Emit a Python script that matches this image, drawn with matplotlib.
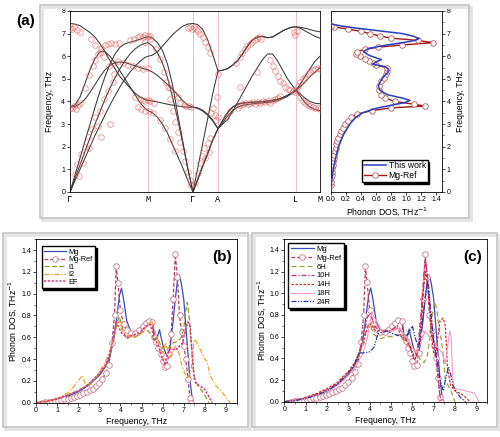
import matplotlib
matplotlib.use('Agg')
import matplotlib.pyplot as plt
from matplotlib.patches import Rectangle
from matplotlib.ticker import MultipleLocator

plt.rcParams['font.family'] = ['Liberation Sans', 'DejaVu Sans']

# ---- panel (a): dispersion along the path ----
kpath = [0, .02, .04, .06, .08, .10, .12, .14, .16, .18, .20, .22, .24, .26, .28, .30, .312,
         .33, .35, .37, .39, .41, .43, .45, .47, .492,
         .51, .53, .55, .57, .592,
         .61, .63, .65, .67, .69, .71, .73, .75, .77, .79, .81, .83, .85, .87, .89, .904,
         .92, .94, .96, .98, 1.0]
kticks = [0, 0.312, 0.492, 0.592, 0.904, 1.0]
klabels = ['Γ', 'M', 'Γ', 'A', 'L', 'M']

band1 = [7.45, 7.42, 7.35, 7.2, 7.05, 6.85, 6.55, 6.2, 5.8, 5.45, 5.1, 4.85, 4.6, 4.37, 4.2, 4.08, 4.05,
         4.02, 3.98, 3.93, 3.88, 3.84, 3.8, 3.77, 3.75, 3.75,
         3.72, 3.62, 3.45, 3.2, 2.8,
         3.15, 3.5, 3.75, 3.88, 3.93, 3.95, 3.97, 3.98, 4.0, 4.02, 4.05, 4.1, 4.17, 4.27, 4.4, 4.5,
         4.35, 4.15, 4.0, 3.92, 3.9]
band2 = [3.75, 3.85, 4.2, 4.8, 5.4, 5.9, 6.2, 6.2, 6.0, 5.7, 5.35, 5.0, 4.65, 4.3, 3.95, 3.7, 3.6,
         3.5, 3.3, 3.0, 2.6, 2.1, 1.6, 1.1, 0.55, 0,
         0.55, 1.15, 1.7, 2.3, 2.8,
         3.0, 3.2, 3.55, 3.95, 4.35, 4.75, 5.15, 5.5, 5.85, 6.1, 6.1, 5.8, 5.4, 5.0, 4.7, 4.5,
         4.25, 3.95, 3.75, 3.65, 3.6]
band3 = [3.75, 3.78, 3.9, 4.1, 4.4, 4.75, 5.1, 5.4, 5.6, 5.72, 5.75, 5.72, 5.65, 5.58, 5.5, 5.43, 5.4,
         5.3, 5.15, 4.95, 4.75, 4.55, 4.3, 4.05, 3.85, 3.75,
         3.7, 3.58, 3.4, 3.15, 2.8,
         3.05, 3.35, 3.6, 3.75, 3.83, 3.87, 3.9, 3.92, 3.94, 3.96, 3.99, 4.04, 4.12, 4.23, 4.37, 4.5,
         4.65, 4.85, 5.1, 5.3, 5.5]
band4 = [0, 0.75, 1.5, 2.25, 3.0, 3.75, 4.45, 5.1, 5.65, 6.1, 6.4, 6.55, 6.62, 6.68, 6.75, 6.83, 6.87,
         6.8, 6.6, 6.25, 5.65, 4.75, 3.5, 2.3, 1.1, 0,
         1.0, 2.1, 3.2, 4.3, 5.35,
         5.38, 5.45, 5.6, 5.8, 6.1, 6.45, 6.72, 6.85, 6.88, 6.82, 6.85, 6.98, 7.12, 7.22, 7.29, 7.3,
         7.28, 7.24, 7.18, 7.12, 7.08]
band5 = [0, 0.6, 1.2, 1.8, 2.4, 3.0, 3.55, 4.1, 4.6, 5.05, 5.45, 5.8, 6.1, 6.32, 6.48, 6.57, 6.6,
         6.45, 6.15, 5.7, 5.05, 4.2, 3.25, 2.2, 1.1, 0,
         0.5, 1.1, 1.65, 2.25, 2.8,
         3.15, 3.5, 3.75, 3.88, 3.93, 3.95, 3.97, 3.98, 4.0, 4.02, 4.05, 4.1, 4.17, 4.27, 4.4, 4.5,
         4.75, 5.1, 5.45, 5.78, 6.0]
band6 = [0, 0.5, 1.0, 1.5, 2.0, 2.5, 2.95, 3.4, 3.85, 4.25, 4.65, 5.0, 5.3, 5.55, 5.78, 5.95, 6.0,
         6.05, 6.2, 6.45, 6.7, 6.95, 7.15, 7.32, 7.42, 7.45,
         7.4, 7.2, 6.75, 6.1, 5.35,
         5.38, 5.45, 5.6, 5.8, 6.1, 6.45, 6.72, 6.85, 6.88, 6.82, 6.85, 6.98, 7.12, 7.22, 7.29, 7.3,
         7.25, 7.12, 7.0, 6.88, 6.8]

# reference points (open circles), grouped by path segment
ref_gm = [(0.0, 7.25), (0.008, 7.22), (0.016, 7.28), (0.028, 7.18), (0.04, 7.05),
          (0.0, 3.72), (0.008, 3.7), (0.016, 3.78), (0.024, 3.68), (0.032, 3.85), (0.04, 3.95),
          (0.02, 0.8), (0.028, 1.25), (0.034, 0.7), (0.044, 1.7), (0.05, 1.3), (0.06, 2.0),
          (0.07, 2.45), (0.076, 1.95), (0.088, 2.8), (0.1, 3.3), (0.11, 2.9), (0.12, 3.6),
          (0.122, 2.45), (0.135, 4.1), (0.15, 4.45), (0.16, 3.0), (0.17, 4.85),
          (0.06, 4.6), (0.075, 5.15), (0.09, 5.55), (0.1, 5.85), (0.112, 6.1), (0.125, 6.35),
          (0.138, 6.5), (0.15, 6.55), (0.165, 6.58), (0.18, 6.55), (0.195, 6.6),
          (0.085, 6.75), (0.1, 6.5), (0.118, 6.2), (0.135, 5.95), (0.155, 5.55), (0.175, 5.2),
          (0.17, 5.7), (0.19, 5.8), (0.21, 5.72), (0.23, 5.62), (0.25, 5.55), (0.27, 5.5),
          (0.29, 5.45), (0.31, 5.5),
          (0.24, 6.7), (0.255, 6.78), (0.27, 6.85), (0.28, 6.9), (0.29, 6.85), (0.3, 6.92),
          (0.31, 6.88), (0.32, 6.9), (0.318, 6.75), (0.3, 6.65),
          (0.26, 4.2), (0.28, 4.1), (0.29, 4.05), (0.3, 4.0), (0.31, 4.08),
          (0.27, 3.75), (0.285, 3.65), (0.3, 3.6), (0.315, 3.58)]
ref_mg = [(0.32, 4.02), (0.335, 3.95), (0.33, 3.5),
          (0.345, 6.3), (0.36, 5.9), (0.375, 5.3), (0.39, 4.65), (0.4, 4.1), (0.41, 3.6),
          (0.42, 3.1), (0.43, 2.65), (0.44, 2.2), (0.45, 1.8), (0.46, 1.35), (0.47, 0.9),
          (0.478, 0.55), (0.485, 0.3),
          (0.36, 3.2), (0.38, 2.85), (0.4, 2.35), (0.42, 1.8),
          (0.385, 4.85), (0.4, 4.6), (0.415, 4.35), (0.43, 4.2), (0.44, 3.95), (0.455, 3.85),
          (0.465, 3.82), (0.475, 3.78), (0.485, 3.75),
          (0.47, 7.25), (0.478, 7.3), (0.486, 7.22)]
ref_ga = [(0.495, 7.28), (0.502, 7.2), (0.51, 7.1), (0.52, 7.0), (0.53, 6.85), (0.54, 6.65),
          (0.55, 6.4), (0.56, 6.15),
          (0.5, 0.4), (0.51, 0.85), (0.52, 1.3), (0.528, 1.6), (0.535, 1.95), (0.54, 1.5),
          (0.55, 2.15), (0.556, 1.75), (0.56, 2.4), (0.565, 3.5), (0.572, 3.7), (0.578, 3.4),
          (0.585, 3.2), (0.59, 3.3), (0.588, 4.2), (0.59, 5.2)]
ref_al = [(0.625, 3.3), (0.64, 3.6), (0.68, 4.65),
          (0.665, 5.7), (0.678, 5.95), (0.688, 6.15), (0.698, 6.3), (0.708, 6.45), (0.718, 6.55),
          (0.728, 6.65), (0.738, 6.72), (0.748, 6.8), (0.756, 6.85), (0.764, 6.78),
          (0.67, 3.72), (0.68, 3.85), (0.69, 3.9), (0.7, 3.95), (0.71, 3.88), (0.72, 3.92),
          (0.73, 3.96), (0.74, 3.9), (0.75, 3.98), (0.76, 3.95), (0.77, 4.0), (0.78, 3.96),
          (0.79, 4.02), (0.8, 3.94), (0.81, 4.05), (0.82, 4.1), (0.83, 4.15), (0.84, 4.25),
          (0.748, 5.3),
          (0.8, 5.85), (0.81, 5.55), (0.82, 5.35), (0.83, 5.12), (0.84, 4.92), (0.85, 4.8),
          (0.86, 4.65), (0.87, 4.55), (0.88, 4.5), (0.89, 4.45)]
ref_lm = [(0.895, 7.05), (0.9, 6.95), (0.907, 7.1),
          (0.9, 4.4), (0.905, 4.52), (0.912, 4.7), (0.92, 4.85), (0.93, 5.0), (0.94, 5.1),
          (0.95, 5.2), (0.96, 5.3), (0.97, 5.38), (0.98, 5.45), (0.99, 5.5), (1.0, 5.45),
          (0.92, 4.2), (0.93, 4.02), (0.94, 3.95), (0.95, 3.85), (0.96, 3.8), (0.97, 3.75),
          (0.98, 3.7), (0.99, 3.72), (1.0, 3.66)]

# ---- phonon DOS curves ----
mg_f = [0, 0.5, 1.0, 1.5, 2.0, 2.5, 3.0, 3.3, 3.5, 3.7, 3.85, 3.95, 4.05, 4.15, 4.3, 4.5, 4.7, 4.9,
        5.1, 5.3, 5.45, 5.55, 5.65, 5.75, 5.85, 5.95, 6.05, 6.2, 6.35, 6.5, 6.6, 6.7, 6.78, 6.88,
        7.0, 7.1, 7.2, 7.3, 7.4, 7.45]
mg_d = [0, 0.01, 0.03, 0.06, 0.1, 0.16, 0.25, 0.33, 0.42, 0.6, 0.82, 0.98, 1.05, 0.95, 0.75, 0.65,
        0.63, 0.66, 0.70, 0.76, 0.76, 0.71, 0.55, 0.6, 0.67, 0.58, 0.5, 0.43, 0.5, 0.75, 0.95, 1.12,
        1.17, 1.1, 0.95, 0.7, 0.45, 0.2, 0.04, 0.0]

mgref_f = [0.3, 0.45, 0.6, 0.75, 0.9, 1.05, 1.2, 1.35, 1.5, 1.65, 1.8, 1.95, 2.1, 2.25, 2.4, 2.55,
           2.7, 2.85, 3.0, 3.15, 3.3, 3.45, 3.6, 3.72, 3.8, 3.88, 4.0, 4.15, 4.3, 4.5, 4.7, 4.9,
           5.05, 5.2, 5.35, 5.5, 5.6, 5.7, 5.8, 5.9, 6.0, 6.1, 6.2, 6.3, 6.4, 6.5, 6.6, 6.7, 6.8,
           6.9, 7.0, 7.1, 7.2, 7.3, 7.35]
mgref_d = [0.0, 0.003, 0.006, 0.01, 0.014, 0.019, 0.025, 0.031, 0.038, 0.046, 0.054, 0.063, 0.073,
           0.085, 0.098, 0.113, 0.13, 0.155, 0.185, 0.22, 0.27, 0.35, 0.55, 0.8, 1.25, 1.1, 0.85,
           0.72, 0.67, 0.64, 0.64, 0.67, 0.7, 0.73, 0.75, 0.74, 0.6, 0.56, 0.5, 0.45, 0.38, 0.33,
           0.34, 0.45, 0.63, 0.95, 1.36, 1.15, 0.8, 0.65, 0.52, 0.4, 0.22, 0.04, 0.0]

i1_f = [0, 0.5, 1.0, 1.5, 2.0, 2.5, 3.0, 3.3, 3.5, 3.7, 3.85, 3.95, 4.1, 4.3, 4.5, 4.7, 4.9, 5.1,
        5.3, 5.5, 5.6, 5.7, 5.85, 6.0, 6.15, 6.3, 6.5, 6.7, 6.9, 7.0, 7.1, 7.17, 7.25, 7.35, 7.45,
        7.55, 7.7, 7.9, 8.05, 8.2]
i1_d = [0, 0.01, 0.035, 0.07, 0.11, 0.17, 0.26, 0.34, 0.44, 0.6, 0.74, 0.79, 0.68, 0.58, 0.61,
        0.6, 0.63, 0.65, 0.66, 0.62, 0.56, 0.6, 0.55, 0.5, 0.52, 0.5, 0.55, 0.56, 0.6, 0.68, 0.85,
        0.92, 0.8, 0.55, 0.3, 0.2, 0.15, 0.1, 0.05, 0.0]

i2_f = [0, 0.5, 1.0, 1.5, 1.8, 2.0, 2.2, 2.35, 2.5, 2.8, 3.0, 3.3, 3.5, 3.7, 3.85, 3.95, 4.1, 4.3,
        4.6, 4.9, 5.1, 5.3, 5.5, 5.7, 5.9, 6.0, 6.15, 6.3, 6.45, 6.6, 6.75, 6.9, 7.05, 7.2, 7.35,
        7.5, 7.6, 7.7, 7.85, 8.0, 8.1, 8.25, 8.5, 8.8, 9.0, 9.2]
i2_d = [0, 0.015, 0.04, 0.09, 0.15, 0.2, 0.25, 0.16, 0.15, 0.22, 0.28, 0.38, 0.48, 0.62, 0.72, 0.75,
        0.65, 0.62, 0.6, 0.62, 0.66, 0.72, 0.74, 0.62, 0.5, 0.45, 0.55, 0.42, 0.45, 0.52, 0.47,
        0.35, 0.27, 0.22, 0.3, 0.58, 0.56, 0.52, 0.46, 0.4, 0.38, 0.25, 0.16, 0.1, 0.05, 0.0]

ef_f = [0, 0.5, 1.0, 1.5, 2.0, 2.5, 3.0, 3.3, 3.5, 3.65, 3.8, 3.9, 4.05, 4.3, 4.6, 4.9, 5.2, 5.4,
        5.6, 5.8, 6.0, 6.1, 6.25, 6.4, 6.6, 6.8, 6.95, 7.1, 7.2, 7.3, 7.4, 7.5, 7.6, 7.8, 8.0,
        8.15, 8.35]
ef_d = [0, 0.012, 0.035, 0.07, 0.11, 0.17, 0.27, 0.35, 0.45, 0.58, 0.74, 0.7, 0.64, 0.6, 0.62,
        0.64, 0.7, 0.72, 0.6, 0.52, 0.4, 0.36, 0.45, 0.5, 0.48, 0.52, 0.55, 0.68, 0.74, 0.7, 0.45,
        0.22, 0.17, 0.15, 0.12, 0.07, 0.0]

h6_f = [0, 0.5, 1.0, 1.5, 2.0, 2.5, 3.0, 3.3, 3.5, 3.7, 3.9, 4.0, 4.2, 4.5, 4.8, 5.1, 5.4, 5.6,
        5.8, 6.0, 6.2, 6.4, 6.55, 6.7, 6.85, 6.95, 7.05, 7.15, 7.25, 7.35, 7.45, 7.55, 7.7, 7.85, 8.0]
h6_d = [0, 0.01, 0.03, 0.06, 0.1, 0.16, 0.25, 0.33, 0.42, 0.56, 0.7, 0.72, 0.62, 0.58, 0.6, 0.6,
        0.62, 0.58, 0.52, 0.5, 0.45, 0.38, 0.36, 0.42, 0.62, 0.82, 0.92, 0.85, 0.68, 0.58, 0.42,
        0.2, 0.14, 0.08, 0.0]

h10_f = [0, 0.5, 1.0, 1.5, 2.0, 2.5, 3.0, 3.3, 3.5, 3.7, 3.9, 4.05, 4.2, 4.5, 5.0, 5.3, 5.6, 5.9,
         6.1, 6.25, 6.4, 6.55, 6.62, 6.75, 6.9, 7.0, 7.1, 7.2, 7.3, 7.35]
h10_d = [0, 0.012, 0.035, 0.07, 0.11, 0.17, 0.27, 0.35, 0.45, 0.6, 0.78, 0.82, 0.7, 0.65, 0.66,
         0.7, 0.62, 0.5, 0.38, 0.45, 0.8, 1.2, 1.3, 1.1, 0.75, 0.6, 0.45, 0.25, 0.05, 0.0]

h14_f = [0, 0.5, 1.0, 1.5, 2.0, 2.5, 3.0, 3.3, 3.5, 3.7, 3.9, 4.05, 4.3, 4.7, 5.0, 5.3, 5.5, 5.8,
         6.0, 6.15, 6.35, 6.5, 6.62, 6.75, 6.9, 7.0, 7.1, 7.2, 7.3, 7.45, 7.55, 7.65, 7.8, 8.0,
         8.3, 8.5, 8.7]
h14_d = [0, 0.014, 0.04, 0.075, 0.12, 0.18, 0.28, 0.36, 0.45, 0.55, 0.68, 0.72, 0.65, 0.66, 0.65,
         0.68, 0.6, 0.55, 0.45, 0.4, 0.6, 1.0, 1.2, 1.05, 0.6, 0.45, 0.42, 0.6, 0.75, 0.77, 0.7,
         0.3, 0.15, 0.1, 0.07, 0.04, 0.0]

r18_f = [0, 0.5, 1.0, 1.5, 2.0, 2.5, 3.0, 3.3, 3.5, 3.7, 3.9, 4.1, 4.3, 4.6, 5.0, 5.4, 5.8, 6.0,
         6.2, 6.4, 6.6, 6.8, 7.0, 7.2, 7.4, 7.55, 7.65, 7.75, 7.82, 7.9, 8.0, 8.5, 8.9, 9.05, 9.1]
r18_d = [0, 0.01, 0.03, 0.06, 0.1, 0.15, 0.24, 0.31, 0.38, 0.45, 0.6, 0.82, 0.75, 0.65, 0.65,
         0.68, 0.58, 0.5, 0.45, 0.55, 0.65, 0.6, 0.55, 0.5, 0.45, 0.35, 0.5, 0.65, 0.6, 0.2, 0.12,
         0.1, 0.08, 0.03, 0.0]

r24_f = [0, 0.5, 1.0, 1.5, 2.0, 2.5, 3.0, 3.3, 3.5, 3.7, 4.0, 4.2, 4.4, 4.8, 5.2, 5.5, 5.8, 6.0,
         6.15, 6.3, 6.45, 6.6, 6.72, 6.85, 7.0, 7.15, 7.3, 7.45, 7.6, 7.7, 7.8, 7.9, 8.1, 8.3, 8.5]
r24_d = [0, 0.01, 0.03, 0.06, 0.1, 0.16, 0.26, 0.35, 0.45, 0.45, 0.46, 0.5, 0.63, 0.65, 0.62, 0.6,
         0.62, 0.7, 0.58, 0.5, 0.7, 0.95, 1.1, 0.85, 0.55, 0.4, 0.2, 0.1, 0.25, 0.32, 0.25, 0.15,
         0.08, 0.03, 0.0]

W, H = 500, 437
fig = plt.figure(figsize=(5, 4.37), dpi=100)


def px_rect(x0, y0, x1, y1):
    return [x0 / W, 1 - y1 / H, (x1 - x0) / W, (y1 - y0) / H]


# grey panel frames with a soft shadow
for x0, y0, x1, y1 in [(40, 5, 469, 218), (3, 233, 248, 427), (252, 233, 497, 427)]:
    fig.add_artist(Rectangle(((x0 + 2) / W, 1 - (y1 + 2) / H), (x1 - x0) / W, (y1 - y0) / H,
                             transform=fig.transFigure, fill=False, ec='#e4e4e4', lw=2.0))
    fig.add_artist(Rectangle((x0 / W, 1 - y1 / H), (x1 - x0) / W, (y1 - y0) / H,
                             transform=fig.transFigure, fill=False, ec='#c4c4c4', lw=1.2))

tick_fs = 5.0
lab_fs = 6.2

# ---- (a) band structure ----
ax1 = fig.add_axes(px_rect(70, 11, 320, 192))
for kx in kticks[1:-1]:
    ax1.axvline(kx, color='#e6b2c2', lw=0.6, zorder=0)
for b in [band1, band2, band3, band4, band5, band6]:
    ax1.plot(kpath, b, color='#3a3a3a', lw=0.75, zorder=2)
for seg in [ref_gm, ref_mg, ref_ga, ref_al, ref_lm]:
    ax1.plot([p[0] for p in seg], [p[1] for p in seg], 'o', mfc='none', mec='#e45a5a',
             ms=4.0, mew=0.55, alpha=0.7, zorder=3)
ax1.set_xlim(0, 1)
ax1.set_ylim(0, 8)
ax1.set_xticks(kticks)
ax1.set_xticklabels(klabels, family=['Liberation Mono', 'DejaVu Sans Mono'], fontsize=6.2)
ax1.set_yticks(range(0, 9))
ax1.tick_params(axis='y', labelsize=tick_fs, length=2, width=0.5, pad=1.5)
ax1.tick_params(axis='x', length=0, pad=2)
ax1.set_ylabel('Frequency, THz', fontsize=lab_fs, labelpad=5)
for s in ax1.spines.values():
    s.set_linewidth(0.6)

# ---- (a) DOS ----
ax2 = fig.add_axes(px_rect(331, 11, 442, 192))
ax2.plot(mg_d, mg_f, color='#2a3fc0', lw=1.1, label='This work', zorder=3)
ax2.plot(mgref_d, mgref_f, color='#a01818', lw=1.0, marker='o', mfc='white', mec='#b85a5a',
         ms=4.0, mew=0.6, label='Mg-Ref', zorder=2)
ax2.set_xlim(0, 1.475)
ax2.set_ylim(0, 8)
ax2.set_xticks([0, 0.2, 0.4, 0.6, 0.8, 1.0, 1.2, 1.4])
ax2.set_xticklabels(['0.0', '0.2', '0.4', '0.6', '0.8', '1.0', '1.2', '1.4'])
ax2.yaxis.tick_right()
ax2.yaxis.set_label_position('right')
ax2.set_yticks(range(0, 9))
ax2.yaxis.set_minor_locator(MultipleLocator(0.5))
ax2.tick_params(labelsize=tick_fs, length=2, width=0.5, pad=1.2)
ax2.tick_params(which='minor', length=1.2, width=0.4)
ax2.set_xlabel('Phonon DOS, THz$^{-1}$', fontsize=lab_fs, labelpad=1.5)
ax2.set_ylabel('Frequency, THz', fontsize=lab_fs, labelpad=4)
for s in ax2.spines.values():
    s.set_linewidth(0.6)
ax2.legend(loc='lower right', bbox_to_anchor=(0.87, 0.055), fontsize=6.2, frameon=True,
           fancybox=False, edgecolor='black', framealpha=1, handlelength=2.6,
           borderpad=0.2, labelspacing=0.1, handletextpad=0.3, borderaxespad=0,
           shadow={'ox': 1.3, 'oy': -1.3, 'facecolor': 'black', 'edgecolor': 'black', 'alpha': 1})

fig.text(0.052, 0.952, '(a)', fontsize=11, fontweight='bold', ha='center', va='center')


def dos_axes(ax, label):
    ax.set_xlim(0, 9.5)
    ax.set_ylim(0, 1.5)
    ax.xaxis.set_major_locator(MultipleLocator(1))
    ax.xaxis.set_minor_locator(MultipleLocator(0.5))
    ax.set_yticks([0, 0.2, 0.4, 0.6, 0.8, 1.0, 1.2, 1.4])
    ax.set_yticklabels(['0.0', '0.2', '0.4', '0.6', '0.8', '1.0', '1.2', '1.4'])
    ax.yaxis.set_minor_locator(MultipleLocator(0.1))
    ax.tick_params(labelsize=tick_fs, length=2.2, width=0.5, pad=1.2)
    ax.tick_params(which='minor', length=1.2, width=0.4)
    ax.set_xlabel('Frequency, THz', fontsize=lab_fs, labelpad=1.5)
    ax.set_ylabel('Phonon DOS, THz$^{-1}$', fontsize=lab_fs, labelpad=1.5)
    for s in ax.spines.values():
        s.set_linewidth(0.6)
    ax.text(0.975, 0.89, label, transform=ax.transAxes, fontsize=11, fontweight='bold',
            ha='right', va='center')


ref_style = dict(color='#b83a66', lw=0.9, ls=(0, (3, 1.5)), marker='o', mfc='white',
                 mec='#c8788c', ms=4.0, mew=0.6)
shadow_b = {'ox': 1.3, 'oy': -1.3, 'facecolor': 'black', 'edgecolor': 'black', 'alpha': 1}

# ---- (b) ----
ax3 = fig.add_axes(px_rect(36, 239.1, 236.5, 402.7))
ax3.plot(mg_f, mg_d, color='#3a4db8', lw=0.9, label='Mg')
ax3.plot(mgref_f, mgref_d, label='Mg-Ref', **ref_style)
ax3.plot(i1_f, i1_d, color='#8a9a2a', lw=0.9, ls=(0, (4, 2)), label='I1')
ax3.plot(i2_f, i2_d, color='#f0a030', lw=0.9, ls=(0, (4, 1.5, 1, 1.5)), label='I2')
ax3.plot(ef_f, ef_d, color='#e0308c', lw=1.1, ls=(0, (1.5, 1)), label='EF')
dos_axes(ax3, '(b)')
ax3.legend(loc='upper left', bbox_to_anchor=(0.028, 0.955), borderaxespad=0, fontsize=5.3,
           frameon=True, fancybox=False, edgecolor='black', framealpha=1, handlelength=3.0,
           borderpad=0.3, labelspacing=0.05, handletextpad=0.4, shadow=shadow_b)

# ---- (c) ----
ax4 = fig.add_axes(px_rect(284.3, 239.1, 487, 401.7))
ax4.plot(mg_f, mg_d, color='#3a4db8', lw=0.9, label='Mg')
ax4.plot(mgref_f, mgref_d, label='Mg-Ref', **ref_style)
ax4.plot(h6_f, h6_d, color='#a0a040', lw=0.9, ls=(0, (4, 2.5)), label='6H')
ax4.plot(h10_f, h10_d, color='#d02a80', lw=0.9, ls=(0, (4, 1.5, 1, 1.5)), label='10H')
ax4.plot(h14_f, h14_d, color='#e02828', lw=0.9, ls=(0, (2, 1.2)), label='14H')
ax4.plot(r18_f, r18_d, color='#f49ac8', lw=0.8, label='18R')
ax4.plot(r24_f, r24_d, color='#2a3a9a', lw=0.9, ls=(0, (4, 1.2, 1, 1.2, 1, 1.2)), label='24R')
dos_axes(ax4, '(c)')
ax4.legend(loc='upper left', bbox_to_anchor=(0.02, 0.975), borderaxespad=0, fontsize=5.5,
           frameon=True, fancybox=False, edgecolor='black', framealpha=1, handlelength=3.0,
           borderpad=0.3, labelspacing=0.2, handletextpad=0.4, shadow=shadow_b)

fig.savefig('out.png', dpi=100)
